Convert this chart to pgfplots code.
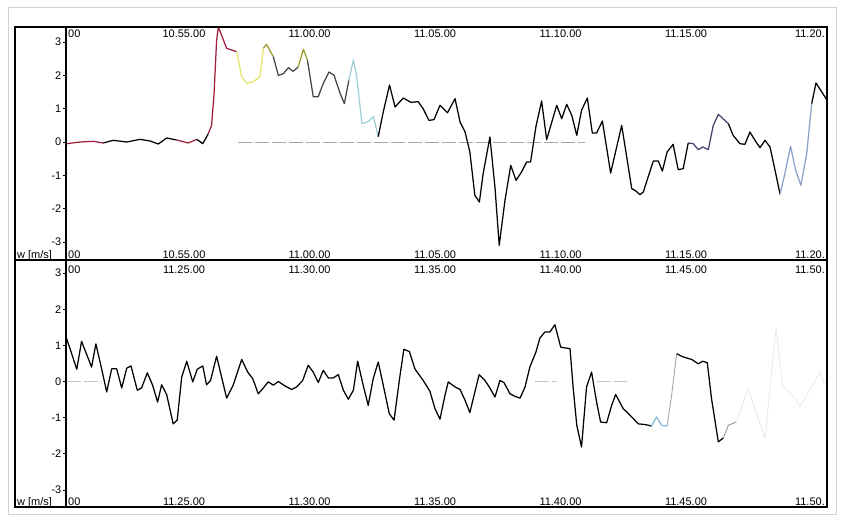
\documentclass[border=0pt]{standalone}
\usepackage{fontspec}
\setmainfont{Liberation Sans}
\usepackage{pgfplots}
\pgfplotsset{compat=1.18}
\definecolor{cred}{HTML}{9E1F3A}
\definecolor{cyel}{HTML}{E6E46A}
\definecolor{colive}{HTML}{9A9A2A}
\definecolor{cdgrey}{HTML}{444444}
\definecolor{ccyan}{HTML}{9FCFD2}
\definecolor{cslate}{HTML}{40456A}
\definecolor{cblue}{HTML}{8CA2C8}
\definecolor{clblue}{HTML}{86B8DA}
\newcommand\lbl{\fontsize{11}{12}\selectfont}
\pgfplotsset{panel/.style={
  scale only axis, width=761pt, xmin=0.30, xmax=30.62,
  axis x line=none, axis y line*=left,
  axis line style={-, line width=1.2pt},
  y axis line style={-},
  ytick={-3,-2,-1,0,1,2,3}, yticklabels={-3,-2,-1,0,1,2,3},
  tick align=outside, major tick length=3pt,
  tick style={line width=1pt, black},
  yticklabel style={font=\lbl, inner sep=1.5pt},
  every axis plot/.append style={line width=1.25pt, line join=round, mark=none},
}}
\begin{document}
\begin{tikzpicture}[x=1pt,y=1pt]
\useasboundingbox (0,0) rectangle (842,520);
\draw[black!18, line width=0.8pt] (8,6) rectangle (836,513);
% ---------- top panel ----------
\begin{axis}[panel, name=top, at={(66pt,260pt)}, anchor=south west, height=233pt, ymin=-3.54, ymax=3.45]
\addplot[gray!70, line width=0.6pt, dash pattern=on 14pt off 3pt] coordinates {(7.15,0)(20.98,0)};
\addplot[cred] coordinates {(0.33,-0.05)(0.86,0)(1.39,0.02)(1.78,-0.03)};
\addplot[black] coordinates {(1.78,-0.03)(2.18,0.05)(2.72,0)(3.25,0.08)(3.65,0.03)(3.98,-0.06)(4.31,0.12)(4.71,0.06)};
\addplot[cred] coordinates {(4.71,0.06)(5.17,-0.03)(5.51,0.08)};
\addplot[black] coordinates {(5.51,0.08)(5.75,-0.05)(5.97,0.25)};
\addplot[cred] coordinates {(5.97,0.25)(6.10,0.5)(6.20,1.45)(6.30,3.05)(6.37,3.45)(6.70,2.81)(6.90,2.76)(7.10,2.71)};
\addplot[cyel] coordinates {(7.10,2.71)(7.30,1.96)(7.50,1.76)(7.76,1.81)(8.03,1.96)(8.16,2.81)};
\addplot[colive] coordinates {(8.16,2.81)(8.29,2.93)(8.56,2.56)};
\addplot[cdgrey] coordinates {(8.56,2.56)(8.76,2.0)(8.96,2.05)(9.16,2.23)(9.35,2.12)(9.55,2.25)};
\addplot[colive] coordinates {(9.55,2.25)(9.76,2.78)(9.92,2.45)};
\addplot[cdgrey] coordinates {(9.92,2.45)(10.15,1.36)(10.35,1.36)(10.55,1.76)(10.78,2.1)(10.98,2.0)(11.22,1.46)(11.39,1.15)(11.57,1.85)};
\addplot[ccyan] coordinates {(11.57,1.85)(11.75,2.46)(11.88,1.98)(12.09,0.55)(12.34,0.61)(12.55,0.76)(12.74,0.16)};
\addplot[black] coordinates {(12.74,0.16)(12.94,0.9)(13.19,1.71)(13.41,1.05)(13.74,1.32)(14.04,1.19)(14.33,1.21)(14.53,1.0)(14.76,0.65)(14.96,0.67)(15.20,1.1)(15.50,0.88)(15.80,1.3)(16.00,0.6)(16.20,0.3)(16.39,-0.3)(16.59,-1.6)(16.77,-1.8)(16.92,-0.95)(17.19,0.15)(17.39,-1.35)(17.56,-3.1)(17.79,-1.75)(18.02,-0.7)(18.23,-1.15)(18.45,-0.9)(18.65,-0.6)(18.81,-0.6)(19.02,0.45)(19.25,1.23)(19.45,0.07)(19.85,1.1)(20.05,0.7)(20.25,1.13)(20.45,0.8)(20.65,0.2)(20.84,0.95)(21.07,1.32)(21.27,0.27)(21.44,0.27)(21.67,0.63)(22.00,-0.93)(22.44,0.5)(22.84,-1.4)(22.97,-1.45)(23.17,-1.58)(23.30,-1.5)(23.70,-0.57)(23.90,-0.57)(24.06,-0.87)(24.25,-0.3)(24.49,-0.07)(24.69,-0.83)(24.89,-0.8)(25.09,-0.03)};
\addplot[cslate] coordinates {(25.09,-0.03)(25.29,-0.05)(25.49,-0.23)(25.67,-0.15)(25.89,-0.23)(26.09,0.5)(26.29,0.83)(26.69,0.55)};
\addplot[black] coordinates {(26.69,0.55)(26.88,0.2)(27.15,-0.05)(27.35,-0.07)(27.55,0.3)(27.75,0.05)(27.95,-0.17)(28.15,0.05)(28.35,-0.15)(28.55,-0.85)(28.75,-1.57)};
\addplot[cblue] coordinates {(28.75,-1.57)(28.94,-0.95)(29.17,-0.13)(29.37,-0.85)(29.58,-1.3)(29.81,-0.35)(30.01,1.15)};
\addplot[black] coordinates {(30.01,1.15)(30.18,1.77)(30.37,1.55)(30.54,1.35)(30.62,1.25)};
\end{axis}
% ---------- bottom panel ----------
\begin{axis}[panel, name=bot, at={(66pt,13pt)}, anchor=south west, height=247pt, ymin=-3.47, ymax=3.36]
\addplot[gray!45, line width=0.6pt, dash pattern=on 14pt off 3pt] coordinates {(0.33,0)(1.75,0)};
\addplot[gray!45, line width=0.6pt, dash pattern=on 14pt off 3pt] coordinates {(18.98,0)(19.86,0)};
\addplot[gray!45, line width=0.6pt, dash pattern=on 14pt off 3pt] coordinates {(21.45,0)(22.65,0)};
\addplot[black] coordinates {(0.32,1.2)(0.73,0.34)(0.92,1.11)(1.32,0.4)(1.49,1.04)(1.72,0.35)(1.92,-0.29)(2.12,0.35)(2.32,0.35)(2.52,-0.18)(2.72,0.37)(2.89,0.43)(3.14,-0.24)(3.31,-0.18)(3.54,0.24)(3.75,-0.1)(3.95,-0.57)(4.11,-0.09)(4.31,-0.36)(4.57,-1.17)(4.73,-1.07)(4.91,0.12)(5.11,0.56)(5.35,-0.01)(5.53,0.34)(5.75,0.43)(5.90,-0.09)(6.06,0.03)(6.30,0.7)(6.70,-0.46)(6.96,-0.1)(7.30,0.61)(7.54,0.26)(7.74,0.08)(7.96,-0.34)(8.16,-0.18)(8.36,-0.01)(8.56,-0.1)(8.76,0.0)(9.02,-0.12)(9.29,-0.22)(9.49,-0.15)(9.73,0.03)(9.95,0.45)(10.15,0.26)(10.35,-0.03)(10.55,0.31)(10.75,0.1)(10.95,0.1)(11.15,0.19)(11.35,-0.24)(11.55,-0.49)(11.75,-0.24)(11.92,0.56)(12.14,-0.1)(12.34,-0.66)(12.54,0.08)(12.74,0.54)(12.94,-0.1)(13.18,-0.89)(13.37,-1.07)(13.58,0.03)(13.76,0.89)(13.98,0.83)(14.20,0.35)(14.53,0.03)(14.80,-0.27)(15.00,-0.75)(15.20,-1.04)(15.40,-0.38)(15.53,-0.01)(15.80,-0.15)(16.00,-0.22)(16.20,-0.52)(16.39,-0.86)(16.59,-0.29)(16.76,0.19)(16.99,0.03)(17.19,-0.18)(17.39,-0.43)(17.59,0.03)(17.75,-0.03)(17.99,-0.34)(18.19,-0.41)(18.39,-0.46)(18.59,-0.15)(18.78,0.4)(19.02,0.81)(19.18,1.2)(19.38,1.37)(19.58,1.37)(19.78,1.57)(20.01,0.95)(20.18,0.93)(20.38,0.91)(20.51,-0.2)(20.65,-1.21)(20.84,-1.81)(21.04,-0.15)(21.24,0.26)(21.44,-0.57)(21.60,-1.12)(21.84,-1.14)(22.04,-0.66)(22.20,-0.36)(22.50,-0.75)(22.77,-0.93)(23.10,-1.17)(23.37,-1.19)(23.63,-1.23)};
\addplot[clblue] coordinates {(23.63,-1.23)(23.83,-0.98)(24.03,-1.21)(24.25,-1.23)};
\addplot[black!35, line width=0.9pt] coordinates {(24.25,-1.23)(24.43,-0.38)(24.63,0.77)};
\addplot[black] coordinates {(24.63,0.77)(24.89,0.68)(25.23,0.61)(25.49,0.49)(25.67,0.56)(25.85,0.52)(26.02,-0.48)(26.29,-1.67)(26.49,-1.56)};
\addplot[black!40, line width=0.9pt] coordinates {(26.49,-1.56)(26.69,-1.21)(27.00,-1.12)};
\addplot[black!9, line width=0.8pt] coordinates {(27.00,-1.12)(27.48,-0.2)(28.02,-1.3)(28.15,-1.58)(28.59,1.46)(28.72,0.72)(28.85,-0.1)(29.34,-0.47)(29.54,-0.7)(30.34,0.26)(30.54,-0.1)};
\end{axis}
% frames
\draw[line width=1.3pt] (15,260) rectangle (827,493);
\draw[line width=1.3pt] (15,13) rectangle (827,260);
% time labels
\foreach \yb/\a/\b/\c/\d/\e/\f/\g in {482/00/10.55.00/11.00.00/11.05.00/11.10.00/11.15.00/11.20.,
  262/00/10.55.00/11.00.00/11.05.00/11.10.00/11.15.00/11.20.,
  247/00/11.25.00/11.30.00/11.35.00/11.40.00/11.45.00/11.50.,
  15/00/11.25.00/11.30.00/11.35.00/11.40.00/11.45.00/11.50.}{
  \node[font=\lbl, anchor=base west, inner sep=0pt] at (68,\yb) {\a};
  \node[font=\lbl, anchor=base, inner sep=0pt] at (184,\yb) {\b};
  \node[font=\lbl, anchor=base, inner sep=0pt] at (309.5,\yb) {\c};
  \node[font=\lbl, anchor=base, inner sep=0pt] at (435,\yb) {\d};
  \node[font=\lbl, anchor=base, inner sep=0pt] at (560.5,\yb) {\e};
  \node[font=\lbl, anchor=base, inner sep=0pt] at (686,\yb) {\f};
  \node[font=\lbl, anchor=base east, inner sep=0pt] at (825,\yb) {\g};
}
\node[font=\lbl, anchor=base west, inner sep=0pt] at (17,262) {w [m/s]};
\node[font=\lbl, anchor=base west, inner sep=0pt] at (17,15) {w [m/s]};
\end{tikzpicture}
\end{document}
